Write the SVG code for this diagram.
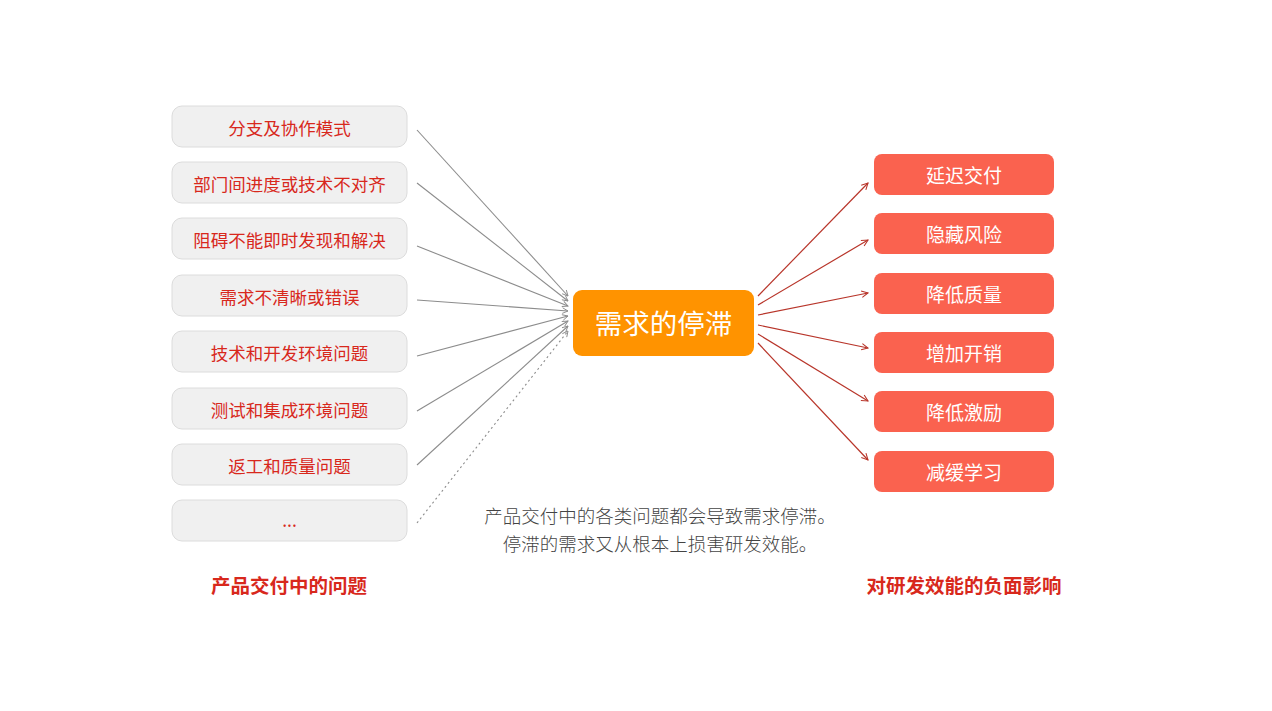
<svg xmlns="http://www.w3.org/2000/svg" width="1272" height="711" viewBox="0 0 1272 711">
<style>
.lb{fill:#f0f0f0;stroke:#dcdcdc;stroke-width:1}
.lt{font-family:"Noto Sans CJK SC",sans-serif;font-size:17.5px;fill:#d8281c;text-anchor:middle;dominant-baseline:central}
.rb{fill:#fa624f}
.rt{font-family:"Noto Sans CJK SC",sans-serif;font-size:19px;fill:#ffffff;text-anchor:middle;dominant-baseline:central}
.gl{stroke:#8c8c8c;stroke-width:1.1;fill:none;marker-end:url(#ga)}
.rl{stroke:#b8352a;stroke-width:1.2;fill:none;marker-end:url(#ra)}
.cap{font-family:"Noto Sans CJK SC",sans-serif;font-size:19.5px;font-weight:bold;fill:#d8281c;text-anchor:middle}
.note{font-family:"Noto Sans CJK SC",sans-serif;font-size:18.5px;font-weight:300;fill:#444;text-anchor:middle}
</style>
<defs>
<marker id="ga" viewBox="0 0 10 10" refX="9" refY="5" markerWidth="7" markerHeight="7" orient="auto" markerUnits="userSpaceOnUse"><path d="M1,1 L9,5 L1,9" fill="none" stroke="#8c8c8c" stroke-width="1.3"/></marker>
<marker id="ra" viewBox="0 0 10 10" refX="9" refY="5" markerWidth="8" markerHeight="8" orient="auto" markerUnits="userSpaceOnUse"><path d="M1,1 L9,5 L1,9" fill="none" stroke="#b8352a" stroke-width="1.3"/></marker>
</defs>
<rect width="1272" height="711" fill="#ffffff"/>
<g id="connectors">
<line class="gl" x1="417" y1="130" x2="568" y2="296"/>
<line class="gl" x1="417" y1="183" x2="568" y2="301"/>
<line class="gl" x1="417" y1="246" x2="568" y2="306"/>
<line class="gl" x1="417" y1="300" x2="568" y2="311"/>
<line class="gl" x1="417" y1="356" x2="568" y2="316"/>
<line class="gl" x1="417" y1="411" x2="568" y2="321"/>
<line class="gl" x1="417" y1="465" x2="568" y2="326"/>
<line class="gl" x1="417" y1="523" x2="568" y2="331" stroke-dasharray="2,3"/>
<line class="rl" x1="758" y1="296" x2="868" y2="183"/>
<line class="rl" x1="758" y1="305" x2="868" y2="240"/>
<line class="rl" x1="758" y1="315" x2="868" y2="293"/>
<line class="rl" x1="758" y1="325" x2="868" y2="348"/>
<line class="rl" x1="758" y1="334" x2="868" y2="401"/>
<line class="rl" x1="758" y1="343" x2="868" y2="460"/>
</g>
<g id="n1"><rect class="lb" x="172" y="106" width="235" height="41" rx="10"/><text class="lt" x="289.5" y="127">分支及协作模式</text></g>
<g id="n2"><rect class="lb" x="172" y="162" width="235" height="41" rx="10"/><text class="lt" x="289.5" y="183">部门间进度或技术不对齐</text></g>
<g id="n3"><rect class="lb" x="172" y="218" width="235" height="41" rx="10"/><text class="lt" x="289.5" y="239">阻碍不能即时发现和解决</text></g>
<g id="n4"><rect class="lb" x="172" y="275" width="235" height="41" rx="10"/><text class="lt" x="289.5" y="296">需求不清晰或错误</text></g>
<g id="n5"><rect class="lb" x="172" y="331" width="235" height="41" rx="10"/><text class="lt" x="289.5" y="352">技术和开发环境问题</text></g>
<g id="n6"><rect class="lb" x="172" y="388" width="235" height="41" rx="10"/><text class="lt" x="289.5" y="409">测试和集成环境问题</text></g>
<g id="n7"><rect class="lb" x="172" y="444" width="235" height="41" rx="10"/><text class="lt" x="289.5" y="465">返工和质量问题</text></g>
<g id="n8"><rect class="lb" x="172" y="500" width="235" height="41" rx="10"/><text class="lt" x="289.5" y="519">...</text></g>
<g id="center"><rect x="573" y="290" width="181" height="66" rx="9" fill="#ff9300"/><text x="663.5" y="322" font-family="Noto Sans CJK SC,sans-serif" font-size="27.5" fill="#ffffff" text-anchor="middle" dominant-baseline="central">需求的停滞</text></g>
<g id="r1"><rect class="rb" x="874" y="154" width="180" height="41" rx="8"/><text class="rt" x="964" y="174.5">延迟交付</text></g>
<g id="r2"><rect class="rb" x="874" y="213" width="180" height="41" rx="8"/><text class="rt" x="964" y="233.5">隐藏风险</text></g>
<g id="r3"><rect class="rb" x="874" y="273" width="180" height="41" rx="8"/><text class="rt" x="964" y="293.5">降低质量</text></g>
<g id="r4"><rect class="rb" x="874" y="332" width="180" height="41" rx="8"/><text class="rt" x="964" y="352.5">增加开销</text></g>
<g id="r5"><rect class="rb" x="874" y="391" width="180" height="41" rx="8"/><text class="rt" x="964" y="411.5">降低激励</text></g>
<g id="r6"><rect class="rb" x="874" y="451" width="180" height="41" rx="8"/><text class="rt" x="964" y="471.5">减缓学习</text></g>
<g id="notes">
<text class="note" x="660" y="523">产品交付中的各类问题都会导致需求停滞。</text>
<text class="note" x="660" y="551">停滞的需求又从根本上损害研发效能。</text>
</g>
<g id="captions">
<text class="cap" x="289" y="593">产品交付中的问题</text>
<text class="cap" x="964" y="593">对研发效能的负面影响</text>
</g>
</svg>
